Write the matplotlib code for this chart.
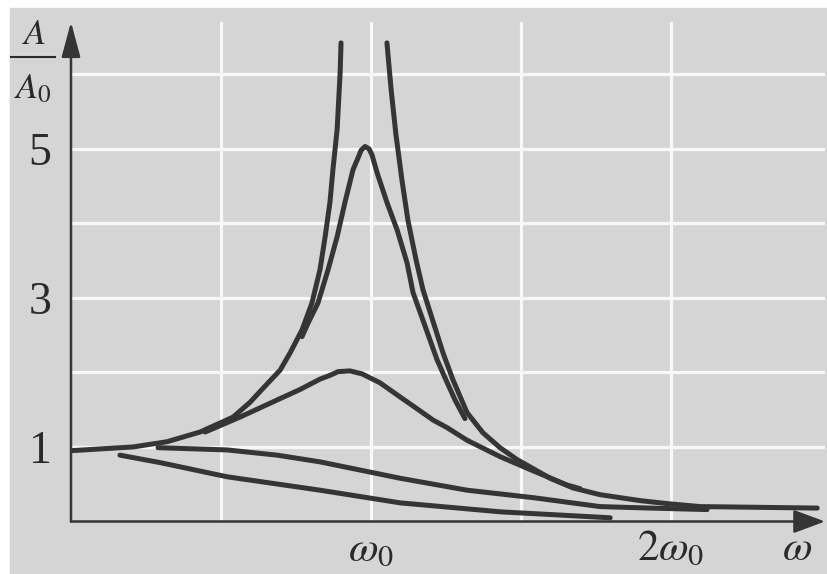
import matplotlib
matplotlib.use('Agg')
from matplotlib import pyplot as plt
from matplotlib.lines import Line2D
from matplotlib.patches import Rectangle

plt.rcParams['font.family'] = ['Liberation Serif', 'DejaVu Serif']
plt.rcParams['mathtext.fontset'] = 'stix'

# omega / omega0 and A / A0
big_left_w = [0.00, 0.207, 0.32, 0.43, 0.54, 0.597, 0.657, 0.697, 0.73, 0.77,
              0.803, 0.83, 0.847, 0.863, 0.873, 0.887, 0.897, 0.90]
big_left_a = [0.95, 1.00, 1.07, 1.20, 1.40, 1.60, 1.86, 2.03, 2.26, 2.57,
              2.93, 3.38, 3.82, 4.28, 4.72, 5.26, 6.02, 6.42]

big_right_w = [1.053, 1.067, 1.083, 1.103, 1.123, 1.15, 1.173, 1.203, 1.24, 1.273,
               1.32, 1.373, 1.43, 1.487, 1.597, 1.673, 1.763, 1.897, 1.987, 2.097,
               2.297, 2.487]
big_right_a = [6.42, 5.79, 5.19, 4.58, 4.04, 3.51, 3.11, 2.73, 2.26, 1.90,
               1.46, 1.19, 0.99, 0.83, 0.58, 0.45, 0.36, 0.28, 0.24, 0.20,
               0.19, 0.18]

peak5_w = [0.77, 0.79, 0.823, 0.857, 0.887, 0.913, 0.94, 0.957, 0.967, 0.98,
           0.993, 1.003, 1.02, 1.053, 1.087, 1.12, 1.14, 1.173, 1.22, 1.253,
           1.28, 1.313]
peak5_a = [2.48, 2.66, 2.93, 3.38, 3.82, 4.28, 4.72, 4.88, 4.98, 5.03,
           5.00, 4.92, 4.68, 4.28, 3.91, 3.47, 3.07, 2.70, 2.17, 1.87,
           1.63, 1.38]

peak2_w = [0.447, 0.563, 0.687, 0.763, 0.83, 0.863, 0.89, 0.93, 0.97, 1.03,
           1.097, 1.14, 1.207, 1.253, 1.32, 1.43, 1.54, 1.653, 1.697]
peak2_a = [1.20, 1.40, 1.63, 1.77, 1.91, 1.96, 2.01, 2.02, 1.98, 1.86,
           1.67, 1.55, 1.36, 1.26, 1.09, 0.87, 0.68, 0.49, 0.44]

flat_w = [0.29, 0.52, 0.687, 0.83, 1.097, 1.32, 1.54, 1.763, 1.93, 2.12]
flat_a = [0.99, 0.96, 0.89, 0.80, 0.58, 0.42, 0.32, 0.20, 0.18, 0.16]

low_w = [0.163, 0.297, 0.52, 0.83, 1.097, 1.43, 1.797]
low_a = [0.89, 0.79, 0.60, 0.42, 0.25, 0.13, 0.05]

x_ticks = [0.5, 1.0, 1.5, 2.0]
x_tick_labels = ['', r'$\omega_0$', '', r'$2\omega_0$']
y_ticks = [1, 2, 3, 4, 5, 6]
y_tick_labels = ['1', '', '3', '', '5', '']

bg = '#d5d5d5'
ink = '#353535'

fig = plt.figure(figsize=(8.28, 5.74), dpi=100, facecolor='white')
fig.patches.append(Rectangle((10 / 828, 0), 1, (574 - 8) / 574,
                             transform=fig.transFigure, color=bg, zorder=-10))
ax = fig.add_axes([71 / 828, 52.5 / 574, 754 / 828, 499.5 / 574])
ax.set_facecolor(bg)
ax.set_xlim(0, 2.513)
ax.set_ylim(0, 6.70)

for sp in ax.spines.values():
    sp.set_visible(False)

ax.set_xticks(x_ticks, x_tick_labels)
ax.set_yticks(y_ticks, y_tick_labels)
ax.tick_params(length=0, labelcolor='#2a2a2a')
ax.tick_params(axis='y', labelsize=33, pad=14)
ax.tick_params(axis='x', labelsize=31, pad=28)
for lab in ax.get_xticklabels():
    lab.set_va('baseline')
ax.grid(True, color='#f8f8f8', lw=2.3)
ax.set_axisbelow(True)

curves = [(big_left_w, big_left_a), (big_right_w, big_right_a),
          (peak5_w, peak5_a), (peak2_w, peak2_a),
          (flat_w, flat_a), (low_w, low_a)]
for w, a in curves:
    ax.plot(w, a, color=ink, lw=3.6, solid_capstyle='round',
            solid_joinstyle='round', zorder=3)

# axes with arrow heads
ax.annotate('', xy=(0, 1), xytext=(0, 0), xycoords='axes fraction',
            arrowprops=dict(arrowstyle='-|>,head_length=1.08,head_width=0.29',
                            mutation_scale=20, color=ink, lw=1.8,
                            shrinkA=0, shrinkB=0), annotation_clip=False)
ax.annotate('', xy=(1, 0), xytext=(0, 0), xycoords='axes fraction',
            arrowprops=dict(arrowstyle='-|>,head_length=0.97,head_width=0.36',
                            mutation_scale=20, color=ink, lw=1.8,
                            shrinkA=0, shrinkB=0), annotation_clip=False)

ax.text(2.42, -0.52, r'$\omega$', fontsize=31, ha='center', va='baseline',
        color='#2a2a2a', clip_on=False)

# y label as a stacked fraction
fig.text(34 / 828, 1 - 35 / 574, r'$A$', fontsize=26, ha='center', va='center',
         color='#2a2a2a')
fig.lines.append(Line2D([11 / 828, 55 / 828], [1 - 57 / 574, 1 - 57 / 574],
                        transform=fig.transFigure, color='#2a2a2a', lw=1.5))
fig.text(33 / 828, 1 - 90 / 574, r'$A_0$', fontsize=26, ha='center', va='center',
         color='#2a2a2a')

plt.savefig('out.png', dpi=100, facecolor=fig.get_facecolor())
